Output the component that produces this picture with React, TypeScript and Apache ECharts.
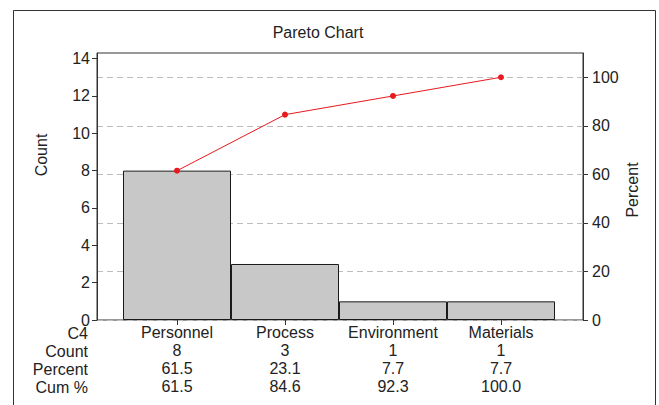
import React, { useEffect, useRef } from "react";
import * as echarts from "echarts";

const categories = ["Personnel", "Process", "Environment", "Materials"];
const counts = [8, 3, 1, 1];
const percents = ["61.5", "23.1", "7.7", "7.7"];
const cumPercents = [61.5, 84.6, 92.3, 100.0];
const cumLabels = ["61.5", "84.6", "92.3", "100.0"];
const rowLabels = ["C4", "Count", "Percent", "Cum %"];
const countTicks = [0, 2, 4, 6, 8, 10, 12, 14];
const percentTicks = [0, 20, 40, 60, 80, 100];

const FONT = "'Liberation Sans', Arial, Helvetica, sans-serif";
const TXT = "#222";

export default function App() {
  const ref = useRef<HTMLDivElement>(null);
  useEffect(() => {
    if (!ref.current) return;
    const chart = echarts.init(ref.current, undefined, { renderer: "svg" });
    const total = counts.reduce((a, b) => a + b, 0);
    const countMax = total * 1.1;
    const pctMax = 110;
    chart.setOption({
      animation: false,
      textStyle: { fontFamily: FONT },
      grid: [
        { left: 97, right: 76, top: 53, bottom: 85, show: true, borderColor: "#333", borderWidth: 1, backgroundColor: "transparent" },
        { left: 123, right: 104, top: 53, bottom: 85 },
      ],
      xAxis: [
        { type: "value", gridIndex: 0, min: 0, max: 1, show: false },
        {
          type: "category",
          gridIndex: 1,
          data: categories,
          axisLine: { show: false },
          axisTick: { show: true, alignWithLabel: true, interval: 0, length: 5, lineStyle: { color: "#333" } },
          axisLabel: {
            interval: 0,
            hideOverlap: false,
            margin: 3,
            fontSize: 16,
            lineHeight: 18,
            color: TXT,
            fontFamily: FONT,
            formatter: (v: string, i: number) => `${v}\n${counts[i]}\n${percents[i]}\n${cumLabels[i]}`,
          },
        },
      ],
      yAxis: [
        {
          type: "value",
          gridIndex: 0,
          min: 0,
          max: countMax,
          position: "left",
          axisLine: { show: true, lineStyle: { color: "#333" } },
          axisTick: { show: true, length: 5, customValues: countTicks, lineStyle: { color: "#333" } },
          axisLabel: { customValues: countTicks, fontSize: 16, color: TXT, margin: 7, fontFamily: FONT },
          splitLine: { show: false },
        },
        {
          type: "value",
          gridIndex: 0,
          min: 0,
          max: pctMax,
          position: "right",
          axisLine: { show: true, lineStyle: { color: "#333" } },
          axisTick: { show: true, length: 5, customValues: percentTicks, lineStyle: { color: "#333" } },
          axisLabel: { customValues: percentTicks, fontSize: 16, color: TXT, margin: 9, fontFamily: FONT },
          splitLine: { show: true, lineStyle: { color: "#bdbdbd", type: [6, 4], width: 1 } },
        },
        { type: "value", gridIndex: 1, min: 0, max: countMax, show: false },
        { type: "value", gridIndex: 1, min: 0, max: pctMax, show: false },
      ],
      series: [
        {
          type: "bar",
          xAxisIndex: 1,
          yAxisIndex: 2,
          data: counts,
          barCategoryGap: "0%",
          itemStyle: { color: "#c8c8c8", borderColor: "#1a1a1a", borderWidth: 1 },
          z: 2,
        },
        {
          type: "line",
          xAxisIndex: 1,
          yAxisIndex: 3,
          data: cumPercents,
          symbol: "circle",
          symbolSize: 6,
          itemStyle: { color: "#e8191f" },
          lineStyle: { color: "#e8191f", width: 1 },
          z: 3,
        },
      ],
      graphic: [
        { type: "rect", shape: { x: 13.5, y: 10.5, width: 642, height: 430 }, style: { fill: "none", stroke: "#333", lineWidth: 1 }, silent: true },
        { type: "text", x: 318, y: 32, style: { text: "Pareto Chart", fontSize: 16, fill: TXT, align: "center", verticalAlign: "middle", fontFamily: FONT } },
        { type: "text", x: 41, y: 155, rotation: Math.PI / 2, style: { text: "Count", fontSize: 16, fill: TXT, align: "center", verticalAlign: "middle", fontFamily: FONT } },
        { type: "text", x: 632, y: 190, rotation: Math.PI / 2, style: { text: "Percent", fontSize: 16, fill: TXT, align: "center", verticalAlign: "middle", fontFamily: FONT } },
        ...rowLabels.map((t, i) => ({
          type: "text",
          x: 88,
          y: 333 + i * 18,
          style: { text: t, fontSize: 16, fill: TXT, align: "right", verticalAlign: "middle", fontFamily: FONT },
        })),
      ],
    });
    return () => chart.dispose();
  }, []);
  return <div ref={ref} style={{ position: "fixed", left: 0, top: 0, width: 659, height: 405, background: "#fff" }} />;
}
